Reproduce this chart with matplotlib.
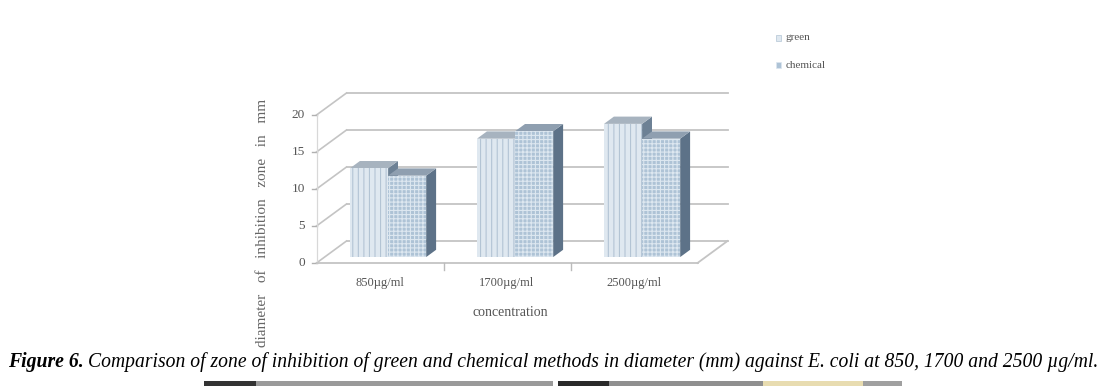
import matplotlib
matplotlib.use("Agg")
import matplotlib.pyplot as plt
from matplotlib.patches import Polygon, Rectangle

# data
categories = ["850µg/ml", "1700µg/ml", "2500µg/ml"]
green = [12, 16, 18]
chemical = [11, 17, 16]
y_ticks = [0, 5, 10, 15, 20]
series_names = ["green", "chemical"]

W, H = 1113, 386
fig = plt.figure(figsize=(W / 100, H / 100), dpi=100)

# pseudo-3d geometry (front plane in data units)
PX_X, PX_Y = 127.0, 7.4          # pixels per data unit
X0_PX, Y0_PX = 380.0, 263.0      # pixel position of category 0, value 0
xlim = (-0.9, 3.0)
ylim = (-2.0, 25.0)
left_px = X0_PX + xlim[0] * PX_X
right_px = X0_PX + xlim[1] * PX_X
bot_px = Y0_PX - ylim[0] * PX_Y
top_px = Y0_PX - ylim[1] * PX_Y
ax = fig.add_axes([left_px / W, 1 - bot_px / H, (right_px - left_px) / W, (bot_px - top_px) / H])
ax.set_xlim(*xlim)
ax.set_ylim(*ylim)
ax.axis("off")

DX, DY = 30 / PX_X, 22 / PX_Y    # full depth offset
F0, F1 = 0.27, 0.60              # bar depth range (fraction of full depth)
XL, XR = -0.5, 2.5
grid_c = "#c4c4c4"
lab_c = "#555555"

# back wall grid, left wall diagonals, ticks
for v in y_ticks:
    ax.plot([XL + DX, XR + DX], [v + DY, v + DY], color=grid_c, lw=1.3, zorder=1)
    ax.plot([XL, XL + DX], [v, v + DY], color=grid_c, lw=1.2, zorder=1)
    ax.plot([XL - 0.035, XL], [v, v], color="#b0b0b0", lw=1.0, zorder=1)
    ax.text(XL - 0.09, v, str(v), ha="right", va="center", fontsize=9.5,
            family="Liberation Serif", color=lab_c)
ax.plot([XL, XL], [0, y_ticks[-1]], color="#d8d8d8", lw=0.9, zorder=1)
# floor
ax.plot([XL, XR], [0, 0], color=grid_c, lw=1.3, zorder=1)
ax.plot([XR, XR + DX], [0, DY], color=grid_c, lw=1.3, zorder=1)
for b in [0.5, 1.5]:
    ax.plot([b, b], [0, -0.9], color="#bbbbbb", lw=1.0, zorder=1)

styles = [
    dict(face="#dfe8f0", hatch="|||", hcol="#b3c4d4", top="#a7b3bf", side="#6d8195"),
    dict(face="#aec3d6", hatch="++++", hcol="#dde7f0", top="#8f9fb0", side="#5d7288"),
]
width = 0.30
sx, sy = F0 * DX, F0 * DY
ddx, ddy = (F1 - F0) * DX, (F1 - F0) * DY

plt.rcParams["hatch.linewidth"] = 0.8
for i in range(len(categories)):
    for k, vals in enumerate([green, chemical]):
        st = styles[k]
        xl = i - width + k * width + sx
        xr = xl + width
        y0 = sy
        y1 = sy + vals[i]
        z = 3 + i * 2 + k
        ax.add_patch(Polygon([(xr, y0), (xr + ddx, y0 + ddy), (xr + ddx, y1 + ddy), (xr, y1)],
                             closed=True, facecolor=st["side"], edgecolor="none", zorder=z))
        ax.add_patch(Polygon([(xl, y1), (xr, y1), (xr + ddx, y1 + ddy), (xl + ddx, y1 + ddy)],
                             closed=True, facecolor=st["top"], edgecolor="none", zorder=z))
        ax.bar(xl, vals[i], width=width, bottom=y0, align="edge", color=st["face"],
               edgecolor=st["hcol"], linewidth=0, hatch=st["hatch"], zorder=z)

# category labels and axis titles
for i, c in enumerate(categories):
    ax.text(i, -2.7, c, ha="center", va="center", fontsize=9,
            family="Liberation Serif", color=lab_c)
fig.text(510 / W, 1 - 313 / H, "concentration", ha="center", va="center", fontsize=10,
         family="Liberation Serif", color=lab_c)
fig.text(262 / W, 1 - 223 / H, "diameter   of   inhibition   zone   in   mm", rotation=90,
         ha="center", va="center", fontsize=11, family="Liberation Serif", color="#666666")

# legend
for k, name in enumerate(series_names):
    yy = 38 + k * 27
    fig.patches.append(Rectangle((776 / W, 1 - (yy + 3) / H), 5 / W, 6 / H,
                                 transform=fig.transFigure, facecolor=styles[k]["face"],
                                 edgecolor=styles[k]["hcol"], linewidth=0.5))
    fig.text(786 / W, 1 - yy / H, name, ha="left", va="center", fontsize=8,
             family="Liberation Serif", color=lab_c)

# caption
fig.text(8 / W, 1 - 362 / H, "Figure 6.", ha="left", va="center", fontsize=14.2,
         family="Liberation Serif", style="italic", weight="bold")
fig.text(88 / W, 1 - 362 / H,
         "Comparison of zone of inhibition of green and chemical methods in diameter (mm) "
         "against E. coli at 850, 1700 and 2500 µg/ml.",
         ha="left", va="center", fontsize=14.1, family="Liberation Serif", style="italic")

# cropped strip at bottom edge
for x0, x1, c in [(204, 256, "#333333"), (256, 553, "#9a9a9a"), (558, 609, "#2a2a2a"),
                  (609, 763, "#8f8f8f"), (763, 863, "#e8dcb0"), (863, 902, "#a0a0a0")]:
    fig.patches.append(Rectangle((x0 / W, 0), (x1 - x0) / W, 5 / H,
                                 transform=fig.transFigure, facecolor=c, edgecolor="none"))

fig.savefig("out.png", dpi=100)
